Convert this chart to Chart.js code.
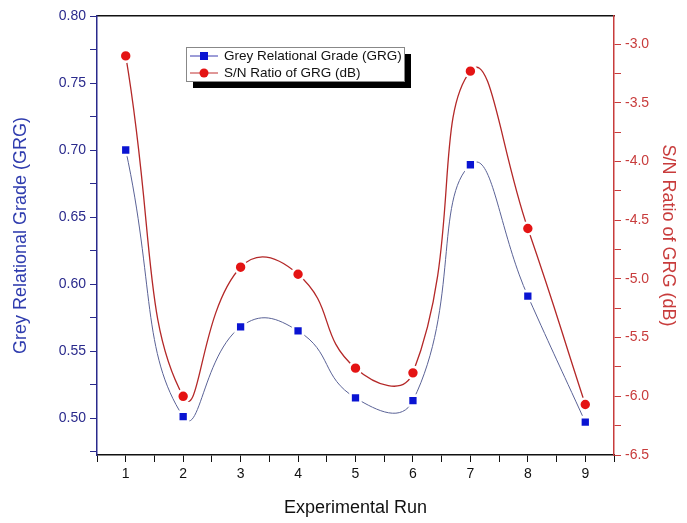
<!DOCTYPE html>
<html>
<head>
<meta charset="utf-8">
<script src="https://cdn.jsdelivr.net/npm/chart.js@4/dist/chart.umd.min.js"></script>
<style>
  html, body { margin: 0; padding: 0; background: #fff; }
  #wrap { width: 687px; height: 523px; position: relative; }
</style>
</head>
<body>
<div id="wrap"><canvas id="chart" width="687" height="523"></canvas></div>
<script>
// experimental runs and measured values
const runs = [1, 2, 3, 4, 5, 6, 7, 8, 9];
const grg = [0.700, 0.501, 0.568, 0.565, 0.515, 0.513, 0.689, 0.591, 0.497];
const snRatio = [-3.10, -6.00, -4.90, -4.96, -5.76, -5.80, -3.23, -4.57, -6.07];

// tick positions (majors get labels)
const leftTicks = [0.475, 0.5, 0.525, 0.55, 0.575, 0.6, 0.625, 0.65, 0.675, 0.7, 0.725, 0.75, 0.775, 0.8];
const rightTicks = [-6.5, -6.25, -6.0, -5.75, -5.5, -5.25, -5.0, -4.75, -4.5, -4.25, -4.0, -3.75, -3.5, -3.25, -3.0];
const xTicks = [0.5, 1, 1.5, 2, 2.5, 3, 3.5, 4, 4.5, 5, 5.5, 6, 6.5, 7, 7.5, 8, 8.5, 9, 9.5];

const BLUE = '#0a14d2';
const NAVY = '#2a2a8c';
const RED = '#e41414';
const DARKRED = '#c83c3c';
const FONT = 'Liberation Sans, Arial, sans-serif';

const isMajor = (v, step) => Math.abs(v / step - Math.round(v / step)) < 1e-6;

// legend box drawn inside the plot, Origin style with a drop shadow
const boxLegend = {
  id: 'boxLegend',
  afterDraw(chart) {
    const ctx = chart.ctx;
    const x = 186, y = 47, w = 218, h = 34;
    ctx.save();
    ctx.fillStyle = '#000';
    ctx.fillRect(x + 7, y + 7, w, h);
    ctx.fillStyle = '#fff';
    ctx.fillRect(x, y, w, h);
    ctx.strokeStyle = '#888';
    ctx.lineWidth = 1;
    ctx.strokeRect(x + 0.5, y + 0.5, w, h);
    const items = [
      { text: chart.data.datasets[0].label, color: '#3b3bb0', mark: 'rect', fill: BLUE },
      { text: chart.data.datasets[1].label, color: '#c03030', mark: 'circle', fill: RED },
    ];
    ctx.font = '13.5px ' + FONT;
    ctx.textBaseline = 'middle';
    items.forEach((it, i) => {
      const cy = y + 9 + i * 17;
      ctx.strokeStyle = it.color;
      ctx.beginPath();
      ctx.moveTo(x + 4, cy);
      ctx.lineTo(x + 32, cy);
      ctx.stroke();
      ctx.fillStyle = it.fill;
      if (it.mark === 'rect') {
        ctx.fillRect(x + 14, cy - 4, 8, 8);
      } else {
        ctx.beginPath();
        ctx.arc(x + 18, cy, 4.5, 0, Math.PI * 2);
        ctx.fill();
      }
      ctx.fillStyle = '#111';
      ctx.fillText(it.text, x + 38, cy);
    });
    ctx.restore();
  },
};

const data = {
  datasets: [
    {
      label: 'Grey Relational Grade (GRG)',
      data: runs.map((r, i) => ({ x: r, y: grg[i] })),
      yAxisID: 'y',
      borderColor: '#5a6296',
      borderWidth: 1,
      tension: 0.5,
      pointStyle: 'rect',
      pointRadius: 7,
      pointBackgroundColor: BLUE,
      pointBorderColor: '#fff',
      pointBorderWidth: 2.6,
    },
    {
      label: 'S/N Ratio of GRG (dB)',
      data: runs.map((r, i) => ({ x: r, y: snRatio[i] })),
      yAxisID: 'y2',
      borderColor: '#b42828',
      borderWidth: 1.3,
      tension: 0.5,
      pointStyle: 'circle',
      pointRadius: 6,
      pointBackgroundColor: RED,
      pointBorderColor: '#fff',
      pointBorderWidth: 2.6,
    },
  ],
};

const options = {
  responsive: false,
  animation: false,
  layout: { padding: 0 },
  plugins: { legend: { display: false }, tooltip: { enabled: false } },
  scales: {
    x: {
      type: 'linear',
      position: 'bottom',
      min: 0.5,
      max: 9.5,
      afterBuildTicks: (s) => { s.ticks = xTicks.map((v) => ({ value: v })); },
      afterFit: (s) => { s.height = 68; },
      border: { color: '#111', width: 1.5 },
      grid: { drawOnChartArea: false, tickLength: 7, tickColor: '#111' },
      ticks: {
        color: '#111',
        font: { family: FONT, size: 14 },
        padding: 4,
        maxRotation: 0,
        autoSkip: false,
        callback: (v) => (isMajor(v, 1) ? String(v) : ''),
      },
      title: {
        display: true,
        text: 'Experimental Run',
        color: '#111',
        font: { family: FONT, size: 18 },
        padding: { top: 5 },
      },
    },
    x2: {
      type: 'linear',
      position: 'top',
      min: 0.5,
      max: 9.5,
      afterFit: (s) => { s.height = 16; },
      border: { color: '#111', width: 1.5 },
      grid: { display: false },
      ticks: { display: false },
    },
    y: {
      type: 'linear',
      position: 'left',
      min: 0.4724,
      max: 0.8,
      afterBuildTicks: (s) => { s.ticks = leftTicks.map((v) => ({ value: v })); },
      afterFit: (s) => { s.width = 97; },
      border: { color: NAVY, width: 1.5 },
      grid: { drawOnChartArea: false, tickLength: 7, tickColor: NAVY },
      ticks: {
        color: NAVY,
        font: { family: FONT, size: 14 },
        padding: 4,
        autoSkip: false,
        callback: (v) => (isMajor(v, 0.05) ? v.toFixed(2) : ''),
      },
      title: {
        display: true,
        text: 'Grey Relational Grade (GRG)',
        color: '#2f3cae',
        font: { family: FONT, size: 18 },
        padding: { top: 10, bottom: 4 },
      },
    },
    y2: {
      type: 'linear',
      position: 'right',
      min: -6.5,
      max: -2.76,
      afterBuildTicks: (s) => { s.ticks = rightTicks.map((v) => ({ value: v })); },
      afterFit: (s) => { s.width = 73; },
      border: { color: DARKRED, width: 1.5 },
      grid: { drawOnChartArea: false, tickLength: 7, tickColor: DARKRED },
      ticks: {
        color: DARKRED,
        font: { family: FONT, size: 14 },
        padding: 4,
        autoSkip: false,
        callback: (v) => (isMajor(v, 0.5) ? v.toFixed(1) : ''),
      },
      title: {
        display: true,
        text: 'S/N Ratio of GRG (dB)',
        color: DARKRED,
        font: { family: FONT, size: 18 },
        padding: { top: 8, bottom: 4 },
      },
    },
  },
};

new Chart('chart', {
  type: 'line',
  data: data,
  options: options,
  plugins: [boxLegend],
});
</script>
</body>
</html>
